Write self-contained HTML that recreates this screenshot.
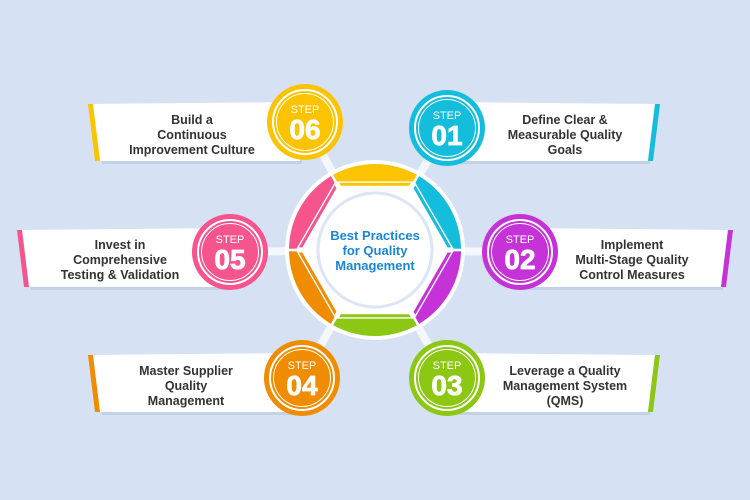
<!DOCTYPE html>
<html><head><meta charset="utf-8"><style>
html,body{margin:0;padding:0;background:#d6e2f3;}
svg{display:block;font-family:"Liberation Sans",sans-serif;}
.t{font-weight:bold;font-size:12.5px;fill:#333;text-anchor:middle;}
.s{font-size:11px;fill:#fff;text-anchor:middle;}
.n{font-size:28px;font-weight:bold;fill:#fff;stroke:#fff;stroke-width:0.8;text-anchor:middle;}
</style></head><body>
<svg id="sv" width="750" height="500" viewBox="0 0 750 500">
<rect width="750" height="500" fill="#d6e2f3"/>
<g stroke="#f4f7fc" stroke-width="8">
<line x1="375" y1="250" x2="305" y2="122"/><line x1="375" y1="250" x2="447" y2="128"/>
<line x1="375" y1="250" x2="230" y2="252"/><line x1="375" y1="250" x2="520" y2="252"/>
<line x1="375" y1="250" x2="302" y2="378"/><line x1="375" y1="250" x2="447" y2="378"/>
</g>
<g fill="#c3d1e6" transform="translate(2,3)">
<polygon points="93,104 300,102 300,161 100,161"/>
<polygon points="447,102 655,104 648,161 447,161"/>
<polygon points="22,230 230,228 230,287 29,287"/>
<polygon points="520,228 728,230 721,287 520,287"/>
<polygon points="93,355 300,353 300,412 100,412"/>
<polygon points="447,353 655,355 648,412 447,412"/>
</g>
<g fill="#fff">
<polygon points="93,104 300,102 300,161 100,161"/>
<polygon points="447,102 655,104 648,161 447,161"/>
<polygon points="22,230 230,228 230,287 29,287"/>
<polygon points="520,228 728,230 721,287 520,287"/>
<polygon points="93,355 300,353 300,412 100,412"/>
<polygon points="447,353 655,355 648,412 447,412"/>
</g>
<polygon points="88,104 93,104 100,161 95,161" fill="#fcc300"/>
<polygon points="655,104 660,104 653,161 648,161" fill="#13bddb"/>
<polygon points="17,230 22,230 29,287 24,287" fill="#f5558c"/>
<polygon points="728,230 733,230 726,287 721,287" fill="#c532d8"/>
<polygon points="88,355 93,355 100,412 95,412" fill="#f08c00"/>
<polygon points="655,355 660,355 653,412 648,412" fill="#8cc714"/>
<text class="t" x="192" y="124">Build a</text><text class="t" x="192" y="139">Continuous</text><text class="t" x="192" y="154">Improvement Culture</text>
<text class="t" x="565" y="124">Define Clear &amp;</text><text class="t" x="565" y="139">Measurable Quality</text><text class="t" x="565" y="154">Goals</text>
<text class="t" x="120" y="249">Invest in</text><text class="t" x="120" y="264">Comprehensive</text><text class="t" x="120" y="279">Testing &amp; Validation</text>
<text class="t" x="632" y="249">Implement</text><text class="t" x="632" y="264">Multi-Stage Quality</text><text class="t" x="632" y="279">Control Measures</text>
<text class="t" x="186" y="375">Master Supplier</text><text class="t" x="186" y="390">Quality</text><text class="t" x="186" y="405">Management</text>
<text class="t" x="565" y="375">Leverage a Quality</text><text class="t" x="565" y="390">Management System</text><text class="t" x="565" y="405">(QMS)</text>
<circle cx="375" cy="250" r="90" fill="#fff"/>
<g id="segs"></g>
<circle cx="375" cy="250" r="57" fill="none" stroke="#dbe5f3" stroke-width="3"/>
<text x="375" y="240" style="font-weight:bold;font-size:13px;fill:#1a86d8;text-anchor:middle">Best Practices</text>
<text x="375" y="255" style="font-weight:bold;font-size:13px;fill:#1a86d8;text-anchor:middle">for Quality</text>
<text x="375" y="270" style="font-weight:bold;font-size:13px;fill:#1a86d8;text-anchor:middle">Management</text>
<g id="steps"></g>
</svg>
<script>
var cols=["#fcc300","#13bddb","#c532d8","#8cc714","#f08c00","#f5558c"];
var cx=375,cy=250,g=document.getElementById("segs"),h="";
function p(r,a){a=a*Math.PI/180;return (cx+r*Math.cos(a)).toFixed(2)+","+(cy+r*Math.sin(a)).toFixed(2);}
for(var k=0;k<6;k++){var a0=-120+60*k,a1=a0+60,ro=86,rv=68/Math.cos(Math.PI/6);
var d="M"+p(ro,a0+0.8)+" A"+ro+","+ro+" 0 0 1 "+p(ro,a1-0.8)+" L"+p(rv,a1-1)+" L"+p(rv,a0+1)+"Z";
h+='<path d="'+d+'" fill="'+cols[k]+'"/>';
var r1=66/Math.cos(Math.PI/6),r2=63/Math.cos(Math.PI/6);
h+='<polygon points="'+p(r1,a0+2)+" "+p(r1,a1-2)+" "+p(r2,a1-2)+" "+p(r2,a0+2)+'" fill="'+cols[k]+'"/>';}
g.innerHTML=h;
var st=[[305,122,"06",0],[447,128,"01",1],[520,252,"02",2],[447,378,"03",3],[302,378,"04",4],[230,252,"05",5]];
var s="";st.forEach(function(o){
s+='<circle cx="'+o[0]+'" cy="'+o[1]+'" r="38" fill="'+cols[o[3]]+'"/>';
s+='<circle cx="'+o[0]+'" cy="'+o[1]+'" r="32" fill="none" stroke="#fff" stroke-width="2"/>';
s+='<circle cx="'+o[0]+'" cy="'+o[1]+'" r="28.5" fill="none" stroke="#fff" stroke-width="1"/>';
s+='<text class="s" x="'+o[0]+'" y="'+(o[1]-9)+'">STEP</text>';
s+='<text class="n" x="'+o[0]+'" y="'+(o[1]+17)+'">'+o[2]+'</text>';});
document.getElementById("steps").innerHTML=s;
</script>
</body></html>
